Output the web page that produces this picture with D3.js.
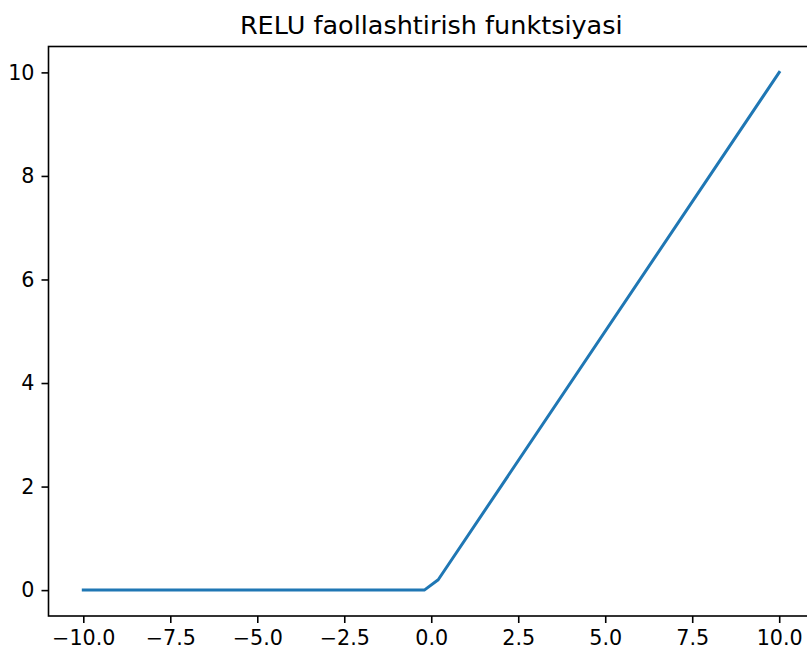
<!DOCTYPE html>
<html>
<head>
<meta charset="utf-8">
<script src="https://cdn.jsdelivr.net/npm/d3@7"></script>
<style>
  body { margin: 0; background: #fff; }
  svg { display: block; font-family: 'DejaVu Sans', sans-serif; }
</style>
</head>
<body>
<div id="app"></div>
<script>
// vertices of the plotted line
let xValues = [-10, -0.2, 0.2, 10]
let yValues = [0, 0, 0.2, 10]
let xTicks = [-10, -7.5, -5, -2.5, 0, 2.5, 5, 7.5, 10]
let yTicks = [0, 2, 4, 6, 8, 10]
let title = 'RELU faollashtirish funktsiyasi'

let width = 807
let height = 650
let plotLeft = 48.5
let plotRight = 814
let plotTop = 46.5
let plotBottom = 616

let svg = d3.select('#app').append('svg')
  .attr('width', width)
  .attr('height', height)

let x = d3.scaleLinear().domain([-11, 11]).range([plotLeft, plotRight])
let y = d3.scaleLinear().domain([-0.5, 10.5]).range([plotBottom, plotTop])

let fmt = d => d3.format('.1f')(d).replace('-', '\u2212')

let xAxis = svg.append('g')
  .attr('transform', `translate(0,${plotBottom})`)
  .call(d3.axisBottom(x).tickValues(xTicks).tickFormat(fmt).tickSize(7).tickPadding(7))
xAxis.select('.domain').remove()

let yAxis = svg.append('g')
  .attr('transform', `translate(${plotLeft},0)`)
  .call(d3.axisLeft(y).tickValues(yTicks).tickFormat(d3.format('d')).tickSize(7).tickPadding(7))
yAxis.select('.domain').remove()

svg.selectAll('.tick line').attr('stroke', '#000').attr('stroke-width', 1.6)
svg.selectAll('.tick text')
  .attr('font-family', "'DejaVu Sans', sans-serif")
  .attr('font-size', 20.7)
  .attr('fill', '#000')

let line = d3.line()
  .x((d, i) => x(xValues[i]))
  .y(d => y(d))

svg.append('path')
  .datum(yValues)
  .attr('d', line)
  .attr('fill', 'none')
  .attr('stroke', '#1f77b4')
  .attr('stroke-width', 3)
  .attr('stroke-linejoin', 'round')
  .attr('stroke-linecap', 'square')

svg.append('rect')
  .attr('x', plotLeft)
  .attr('y', plotTop)
  .attr('width', plotRight - plotLeft)
  .attr('height', plotBottom - plotTop)
  .attr('fill', 'none')
  .attr('stroke', '#000')
  .attr('stroke-width', 1.6)

svg.append('text')
  .attr('x', (plotLeft + plotRight) / 2)
  .attr('y', 34)
  .attr('text-anchor', 'middle')
  .attr('font-size', 25.5)
  .attr('fill', '#000')
  .text(title)
</script>
</body>
</html>
